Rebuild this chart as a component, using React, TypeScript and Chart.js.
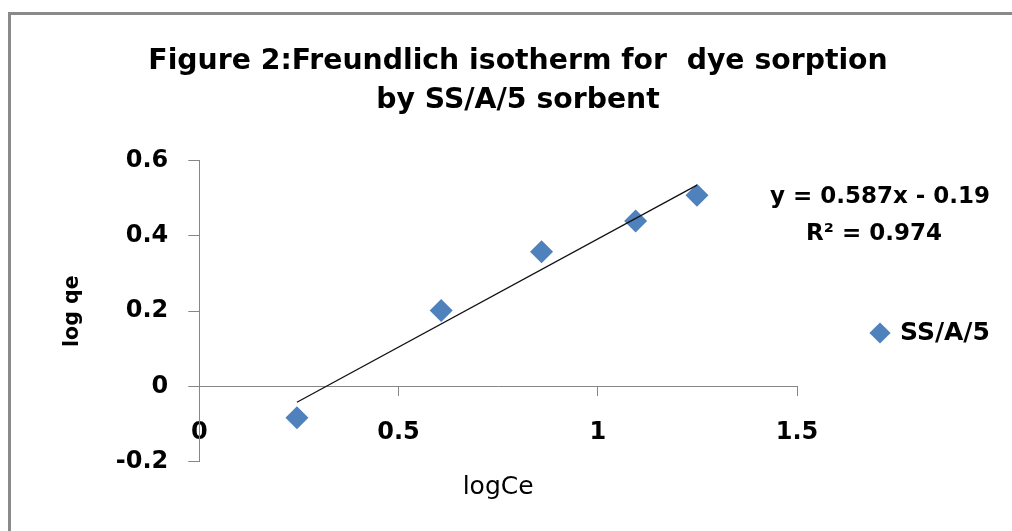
import React, { useEffect, useRef } from 'react';
import { Chart, registerables } from 'chart.js';

Chart.register(...registerables);

// ---- data ----
const TITLE_LINES = ['Figure 2:Freundlich isotherm for  dye sorption', 'by SS/A/5 sorbent'];
const SERIES_NAME = 'SS/A/5';
const LOG_CE = [0.245, 0.607, 0.859, 1.095, 1.249];
const LOG_QE = [-0.083, 0.202, 0.358, 0.44, 0.508];
const TREND_X = [0.245, 1.249];
const TREND_Y = [-0.042, 0.535];
const X_TICKS = [0, 0.5, 1, 1.5];
const X_TICK_LABELS = ['0', '0.5', '1', '1.5'];
const Y_TICKS = [-0.2, 0, 0.2, 0.4, 0.6];
const Y_TICK_LABELS = ['-0.2', '0', '0.2', '0.4', '0.6'];
const EQUATION_LINES = ['y = 0.587x - 0.19', 'R\u00B2 = 0.974'];
const X_TITLE = 'logCe';
const Y_TITLE = 'log qe';

const FONT = "'DejaVu Sans', 'Open Sans', sans-serif";
const AXIS_COLOR = '#868686';
const MARKER_COLOR = '#4F81BD';

const tweaks = {
  id: 'tweaks',
  beforeLayout(chart: any) {
    const lg = chart.legend;
    if (lg && !lg.__patched) {
      const orig = lg.fit;
      lg.fit = function () {
        orig.call(this);
        this.width = 215;
      };
      lg.__patched = true;
    }
  },
  afterLayout(chart: any) {
    const lg = chart.legend;
    if (lg) {
      lg.top = 283;
      lg.bottom = 383;
      lg.height = 100;
    }
  },
  afterDraw(chart: any) {
    const ctx = chart.ctx;
    ctx.save();
    ctx.font = `bold 23px ${FONT}`;
    ctx.fillStyle = '#000';
    ctx.textAlign = 'center';
    ctx.textBaseline = 'middle';
    ctx.fillText(EQUATION_LINES[0], 880, 197);
    ctx.fillText(EQUATION_LINES[1], 874, 234);
    ctx.restore();
  },
};

export default function App() {
  const ref = useRef<HTMLCanvasElement | null>(null);

  useEffect(() => {
    if (!ref.current) return;
    const chart = new Chart(ref.current, {
      type: 'scatter',
      data: {
        datasets: [
          {
            type: 'line',
            label: 'trend',
            data: TREND_X.map((x, i) => ({ x, y: TREND_Y[i] })),
            borderColor: '#111',
            borderWidth: 1.3,
            pointRadius: 0,
            fill: false,
            showLine: true,
          } as any,
          {
            label: SERIES_NAME,
            data: LOG_CE.map((x, i) => ({ x, y: LOG_QE[i] })),
            pointStyle: 'rectRot',
            pointRadius: 11.5,
            pointHoverRadius: 11.5,
            backgroundColor: MARKER_COLOR,
            borderColor: MARKER_COLOR,
            borderWidth: 0,
          },
        ],
      },
      options: {
        animation: false,
        responsive: false,
        events: [],
        layout: { padding: { left: 24, right: 0, top: 0, bottom: 69.3 } },
        plugins: {
          tooltip: { enabled: false },
          title: {
            display: true,
            text: TITLE_LINES,
            color: '#000',
            font: { family: FONT, size: 28.3, weight: 'bold', lineHeight: 39 / 28.3 },
            padding: { top: 42.5, bottom: 40.2 },
          },
          legend: {
            display: true,
            position: 'right',
            labels: {
              filter: (item: any) => item.text === SERIES_NAME,
              usePointStyle: true,
              pointStyle: 'rectRot',
              boxWidth: 15,
              boxHeight: 15,
              padding: 75.5,
              color: '#000',
              font: { family: FONT, size: 25, weight: 'bold' },
            },
          },
        },
        scales: {
          x: {
            type: 'linear',
            position: { y: 0 } as any,
            min: 0,
            max: 1.5,
            afterFit: (s: any) => {
              s.height = 115.8;
            },
            afterBuildTicks: (s: any) => {
              s.ticks = X_TICKS.map((v) => ({ value: v }));
            },
            ticks: {
              callback: (_v: any, i: number) => X_TICK_LABELS[i],
              color: '#000',
              font: { family: FONT, size: 24, weight: 'bold' },
              padding: 23.4,
              maxRotation: 0,
              autoSkip: false,
            },
            grid: { drawOnChartArea: false, drawTicks: true, tickLength: 9, color: AXIS_COLOR },
            border: { display: true, color: AXIS_COLOR, width: 1 },
            title: {
              display: true,
              text: X_TITLE,
              color: '#000',
              font: { family: FONT, size: 25, weight: 'normal' },
              padding: { top: 0, bottom: 0 },
            },
          },
          y: {
            type: 'linear',
            position: 'left',
            min: -0.2,
            max: 0.6,
            afterFit: (s: any) => {
              s.width = 175.3;
            },
            afterBuildTicks: (s: any) => {
              s.ticks = Y_TICKS.map((v) => ({ value: v }));
            },
            ticks: {
              callback: (_v: any, i: number) => Y_TICK_LABELS[i],
              color: '#000',
              font: { family: FONT, size: 24, weight: 'bold' },
              padding: 20,
            },
            grid: { drawOnChartArea: false, drawTicks: true, tickLength: 11, color: AXIS_COLOR },
            border: { display: true, color: AXIS_COLOR, width: 1 },
            title: {
              display: true,
              text: Y_TITLE,
              color: '#000',
              font: { family: FONT, size: 20.5, weight: 'bold' },
              padding: { top: 36.7, bottom: 0 },
            },
          },
        },
      } as any,
      plugins: [tweaks],
    });
    return () => chart.destroy();
  }, []);

  return (
    <div
      style={{
        position: 'absolute',
        left: 0,
        top: 0,
        width: 1012,
        height: 531,
        overflow: 'hidden',
        background: '#fff',
      }}
    >
      <div
        style={{
          position: 'absolute',
          left: 8,
          top: 12,
          width: 1100,
          height: 600,
          borderTop: '3px solid #8a8a8a',
          borderLeft: '3px solid #8a8a8a',
        }}
      />
      <canvas
        ref={ref}
        width={1012}
        height={531}
        style={{ position: 'absolute', left: 0, top: 0, width: 1012, height: 531 }}
      />
    </div>
  );
}
